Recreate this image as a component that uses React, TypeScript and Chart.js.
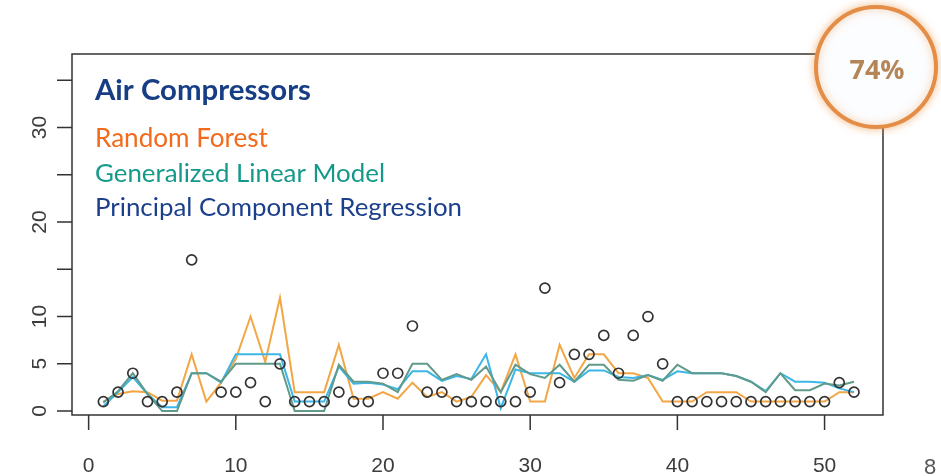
import React, { useEffect, useRef } from 'react';
import { Chart, registerables } from 'chart.js';

Chart.register(...registerables);

// ---------- data ----------
const xIndex = [1, 2, 3, 4, 5, 6, 7, 8, 9, 10, 11, 12, 13, 14, 15, 16, 17, 18, 19, 20, 21, 22, 23, 24, 25, 26,
  27, 28, 29, 30, 31, 32, 33, 34, 35, 36, 37, 38, 39, 40, 41, 42, 43, 44, 45, 46, 47, 48, 49, 50, 51, 52];

const actual = [1, 2, 4, 1, 1, 2, 16, null, 2, 2, 3, 1, 5, 1, 1, 1, 2, 1, 1, 4, 4, 9, 2, 2, 1, 1,
  1, 1, 1, 2, 13, 3, 6, 6, 8, 4, 8, 10, 5, 1, 1, 1, 1, 1, 1, 1, 1, 1, 1, 1, 3, 2];

const randomForest = [1, 1.8, 2.1, 2, 1.1, 1.1, 6, 1, 3, 5.5, 10, 5.2, 12, 2, 2, 2, 7, 1.3, 1.3, 2, 1.3, 3, 1.5, 2, 1, 1.5,
  3.8, 2, 6, 1, 1, 7, 3.5, 6, 6, 4, 4, 3.5, 1, 1, 1, 2, 2, 2, 1, 1, 1, 1, 1, 1, 2, 2];

const glm = [0.9, 2.1, 4, 1.8, 0, 0, 4, 4, 3.1, 5, 5, 5, 5, 0, 0, 0, 4.9, 3.1, 3.1, 2.9, 2, 5, 5, 3.3, 3.9, 3.3,
  4.7, 2, 4.9, 3.9, 3.5, 4.9, 3.1, 4.9, 4.9, 3.3, 3.2, 3.8, 3.2, 4.9, 4, 4, 4, 3.7, 3.1, 2, 4, 2.2, 2.2, 2.9, 2.7, 3.1];

const pcr = [0.5, 2, 3.6, 1.8, 0.4, 0.4, 4, 4, 3, 6, 6, 6, 6, 1, 1, 1, 4.7, 2.9, 3, 2.8, 2.3, 4.2, 4.2, 3.2, 3.7, 3.4,
  6, 0.3, 4.4, 4, 4, 4, 3.1, 4.3, 4.3, 3.6, 3.5, 3.8, 3.3, 4.2, 4, 4, 4, 3.7, 3.1, 2.1, 4, 3.1, 3.1, 3, 2.4, 2];

const xTicks = [0, 10, 20, 30, 40, 50];
const yTicks = [0, 5, 10, 15, 20, 25, 30, 35];
const yTickLabels = ['0', '5', '10', '', '20', '', '30', ''];

const titleText = 'Air Compressors';
const seriesNames = ['Random Forest', 'Generalized Linear Model', 'Principal Component Regression'];
const badgeText = '74%';
const pageNumber = '8';

// ---------- styles ----------
const W = 941;
const H = 476;
const LEGEND_FONT = 'Lato, "Open Sans", "Noto Sans", sans-serif';
const AXIS_FONT = '"Liberation Sans", Arial, sans-serif';

function fitFont(ctx: CanvasRenderingContext2D, text: string, weight: string, family: string, target: number) {
  ctx.font = `${weight} 100px ${family}`;
  const w = ctx.measureText(text).width;
  const size = (100 * target) / w;
  return `${weight} ${size.toFixed(2)}px ${family}`;
}

const overlayPlugin = {
  id: 'overlay',
  afterDatasetsDraw(chart: any) {
    const { ctx, chartArea: a, scales } = chart;
    const x = scales.x;
    const y = scales.y;
    ctx.save();

    // box
    ctx.strokeStyle = '#333';
    ctx.lineWidth = 1.5;
    ctx.strokeRect(a.left, a.top, a.right - a.left, a.bottom - a.top);

    // ticks
    ctx.beginPath();
    yTicks.forEach((v) => {
      const py = y.getPixelForValue(v);
      ctx.moveTo(a.left - 15, py);
      ctx.lineTo(a.left, py);
    });
    xTicks.forEach((v) => {
      const px = x.getPixelForValue(v);
      ctx.moveTo(px, a.bottom);
      ctx.lineTo(px, a.bottom + 15);
    });
    ctx.stroke();

    // tick labels
    ctx.fillStyle = '#3c3c3c';
    ctx.font = `21px ${AXIS_FONT}`;
    ctx.textAlign = 'center';
    ctx.textBaseline = 'middle';
    xTicks.forEach((v) => {
      ctx.fillText(String(v), x.getPixelForValue(v), a.bottom + 51);
    });
    yTicks.forEach((v, i) => {
      const lab = yTickLabels[i];
      if (!lab) return;
      ctx.save();
      ctx.translate(a.left - 32, y.getPixelForValue(v));
      ctx.rotate(-Math.PI / 2);
      ctx.fillText(lab, 0, 0);
      ctx.restore();
    });

    // legend texts
    ctx.textAlign = 'left';
    ctx.textBaseline = 'middle';
    const lx = a.left + 23;
    ctx.fillStyle = '#173e84';
    ctx.font = fitFont(ctx, titleText, 'bold', LEGEND_FONT, 216);
    ctx.fillText(titleText, lx, a.top + 37);
    const colors = ['#f26a1b', '#14998a', '#1b3f8b'];
    const widths = [173, 290, 367];
    const ys = [85, 120, 154];
    seriesNames.forEach((s, i) => {
      ctx.fillStyle = colors[i];
      ctx.font = fitFont(ctx, s, 'normal', LEGEND_FONT, widths[i]);
      ctx.fillText(s, lx, a.top + ys[i]);
    });

    // badge
    const cx = a.right - 7;
    const cy = a.top + 13;
    ctx.save();
    ctx.beginPath();
    ctx.arc(cx, cy, 60, 0, Math.PI * 2);
    ctx.fillStyle = '#fcfdff';
    ctx.shadowColor = 'rgba(235,150,70,0.55)';
    ctx.shadowBlur = 8;
    ctx.fill();
    ctx.lineWidth = 4;
    ctx.strokeStyle = '#e48d47';
    ctx.stroke();
    ctx.restore();
    ctx.fillStyle = '#b48557';
    ctx.textAlign = 'center';
    ctx.font = fitFont(ctx, badgeText, 'bold', '"Open Sans", "Noto Sans", sans-serif', 55);
    ctx.fillText(badgeText, cx + 1, cy + 4);

    // page number
    ctx.fillStyle = '#555';
    ctx.font = `22px ${AXIS_FONT}`;
    ctx.textAlign = 'left';
    ctx.fillText(pageNumber, 924, 468);

    ctx.restore();
  },
};

export default function App() {
  const ref = useRef<HTMLCanvasElement | null>(null);

  useEffect(() => {
    if (!ref.current) return;
    const pts = xIndex
      .map((xv, i) => ({ x: xv, y: actual[i] }))
      .filter((p) => p.y !== null);
    const toXY = (arr: number[]) => xIndex.map((xv, i) => ({ x: xv, y: arr[i] }));

    const chart = new Chart(ref.current, {
      type: 'line',
      data: {
        datasets: [
          {
            label: 'Actual',
            data: pts as any,
            showLine: false,
            pointRadius: 5,
            pointBorderWidth: 1.7,
            pointBorderColor: '#333',
            pointBackgroundColor: 'rgba(255,255,255,0)',
            borderColor: '#333',
          },
          {
            label: seriesNames[1],
            data: toXY(glm) as any,
            borderColor: '#5f9a8b',
            borderWidth: 2,
            pointRadius: 0,
            tension: 0,
          },
          {
            label: seriesNames[2],
            data: toXY(pcr) as any,
            borderColor: '#3cb6e6',
            borderWidth: 2,
            pointRadius: 0,
            tension: 0,
          },
          {
            label: seriesNames[0],
            data: toXY(randomForest) as any,
            borderColor: '#f2a646',
            borderWidth: 2,
            pointRadius: 0,
            tension: 0,
          },
        ],
      },
      options: {
        animation: false,
        responsive: false,
        devicePixelRatio: 1,
        events: [],
        layout: { padding: { left: 72, top: 54, right: 58, bottom: 61 } },
        plugins: { legend: { display: false }, tooltip: { enabled: false } },
        scales: {
          x: { type: 'linear', min: -1.13, max: 53.97, display: false },
          y: { type: 'linear', min: -0.42, max: 37.78, display: false },
        },
      },
      plugins: [overlayPlugin],
    });
    return () => chart.destroy();
  }, []);

  return (
    <div style={{ position: 'absolute', left: 0, top: 0, width: W, height: H, background: '#fff', overflow: 'hidden' }}>
      <canvas ref={ref} width={W} height={H} style={{ width: W, height: H, display: 'block' }} />
    </div>
  );
}
